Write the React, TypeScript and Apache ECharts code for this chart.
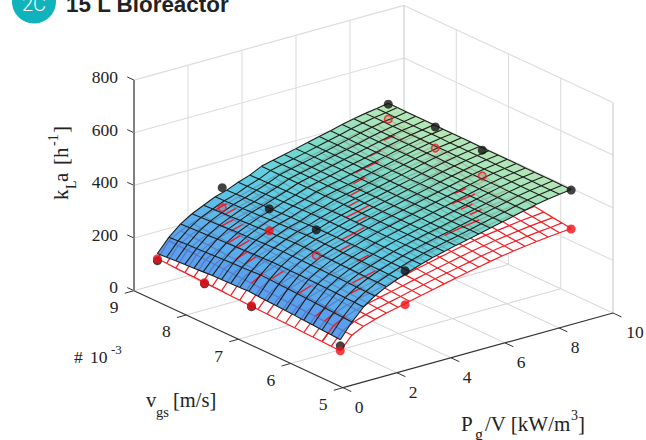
import React, { useEffect, useRef } from "react";
import * as echarts from "echarts";

const pTicks = [0, 2, 4, 6, 8, 10];
const vTicks = [5, 6, 7, 8, 9];
const zTicks = [0, 200, 400, 600, 800];

const pMesh = [-0.1, 0.33, 0.76, 1.18, 1.61, 2.04, 2.47, 2.89, 3.32, 3.75, 4.18, 4.6, 5.03, 5.46, 5.89, 6.31, 6.74, 7.17, 7.6, 8.02, 8.45];
const vMesh = [5, 5.175, 5.35, 5.525, 5.7, 5.875, 6.05, 6.225, 6.4, 6.575, 6.75, 6.925, 7.1, 7.275, 7.45, 7.625, 7.8, 7.975, 8.15, 8.325, 8.5];

// upper kLa surface (rows: P mesh, columns: v mesh)
const upperSurface = [
  [185,188,190,193,195,197,199,201,203,205,208,206,205,204,203,201,199,197,195,192,190],
  [240,242,244,246,248,250,252,254,255,257,258,256,254,253,251,249,247,245,244,242,240],
  [285,287,288,290,291,292,293,294,294,295,295,293,292,290,288,287,285,283,282,280,278],
  [315,316,317,318,319,319,320,320,321,321,322,320,319,317,315,314,312,310,309,307,305],
  [338,339,339,340,341,341,342,342,342,343,343,341,339,338,336,334,332,330,329,327,325],
  [356,356,357,357,358,358,358,359,359,360,360,358,357,355,354,352,351,349,348,346,345],
  [372,372,372,372,372,372,372,372,372,372,372,371,369,368,366,365,364,362,361,359,358],
  [387,387,387,387,387,387,387,387,387,387,387,386,385,384,383,382,380,379,378,377,376],
  [400,400,400,400,400,400,400,400,400,400,400,399,398,397,396,396,395,394,393,392,391],
  [411,411,411,411,411,411,411,411,411,411,411,412,412,412,412,412,412,412,412,412,412],
  [422,422,422,422,422,422,422,422,422,422,422,423,423,423,423,423,423,423,423,423,423],
  [431,431,431,431,431,432,432,432,432,432,432,432,432,432,432,433,433,433,433,433,433],
  [441,441,441,441,441,442,442,442,442,442,442,442,442,442,442,443,443,443,443,443,443],
  [452,452,452,452,452,453,453,453,453,453,453,453,453,453,453,454,454,454,454,454,454],
  [462,462,462,462,463,463,463,463,463,463,463,464,464,464,464,464,464,464,465,465,465],
  [472,472,472,472,473,473,473,473,473,473,473,474,474,474,474,474,474,474,475,475,475],
  [483,483,483,483,484,484,484,484,484,484,484,485,485,485,485,485,485,485,486,486,486],
  [493,493,493,493,494,494,494,494,494,494,494,495,495,495,495,495,495,495,496,496,496],
  [501,501,501,501,502,502,502,502,502,502,502,503,503,503,503,503,503,503,504,504,504],
  [507,507,507,508,508,508,508,508,509,509,509,509,509,510,510,510,510,510,510,511,511],
  [513,513,514,514,514,514,515,515,515,515,515,516,516,516,516,517,517,517,517,518,518],
];

// lower kLa surface (rows: P mesh, columns: v mesh)
const lowerSurface = [
  [143,144,146,147,148,150,151,152,154,155,156,158,159,161,162,163,165,166,167,169,170],
  [190,192,194,195,197,199,201,203,204,206,208,210,212,213,215,217,219,221,222,224,226],
  [212,214,216,218,220,222,224,226,228,230,232,234,236,238,240,242,244,246,248,250,252],
  [226,228,230,232,235,237,239,241,243,245,248,250,252,254,256,258,260,263,265,267,269],
  [238,240,243,245,247,249,252,254,256,258,261,263,265,267,270,272,274,276,279,281,283],
  [248,250,253,255,257,260,262,264,267,269,272,274,276,279,281,283,286,288,290,293,295],
  [258,260,263,265,268,270,273,275,278,280,283,285,287,290,292,295,297,300,302,305,307],
  [268,271,273,276,278,281,284,286,289,291,294,297,299,302,304,307,310,312,315,317,320],
  [278,281,284,286,289,292,295,297,300,303,306,308,311,314,317,319,322,325,328,330,333],
  [288,291,294,297,300,303,305,308,311,314,317,320,323,326,329,332,334,337,340,343,346],
  [298,301,304,307,310,313,316,319,322,325,329,332,335,338,341,344,347,350,353,356,359],
  [307,310,313,317,320,323,326,329,333,336,339,342,345,349,352,355,358,361,365,368,371],
  [316,319,323,326,329,333,336,339,343,346,350,353,356,360,363,366,370,373,376,380,383],
  [325,329,332,336,339,343,346,350,353,357,361,364,368,371,375,378,382,385,389,392,396],
  [333,337,340,344,348,352,355,359,363,366,370,374,377,381,385,389,392,396,400,403,407],
  [340,344,348,352,355,359,363,367,371,375,379,382,386,390,394,398,402,405,409,413,417],
  [346,350,354,358,362,366,370,374,378,382,386,390,394,398,402,406,410,414,418,422,426],
  [352,356,360,364,369,373,377,381,385,389,394,398,402,406,410,414,418,423,427,431,435],
  [357,361,366,370,374,379,383,387,391,396,400,404,409,413,417,422,426,430,434,439,443],
  [361,365,370,374,379,383,388,392,397,401,406,410,414,419,423,428,432,437,441,446,450],
  [365,370,374,379,384,388,393,398,402,407,412,416,421,425,430,435,439,444,449,453,458],
];

// mesh edges of the lower surface that show through the upper one: [P index, v index]
const showThrough = [
  [18,18],[16,17],[15,16],[14,16],[13,15],[12,14],[11,13],[11,12],[10,12],[10,11],[9,10],[8,10],[7,9],[7,7],[6,5],[5,5],[4,4],[1,2],
  [17,9],[17,8],[16,8],[16,7],[16,6],[15,5],[14,5],[13,5],
  [5,20],[5,19],[4,18],[4,17],[3,16],[3,15],[2,14],[2,13],[1,11],[2,10],[2,7],[1,4],[1,3],[0,2],
];

// measured points: [P, v, kLa]
const pointsBlackBack = [[8.45, 8.5, 515], [8.45, 7.6, 511], [8.45, 6.7, 506], [8.45, 5, 511]];
const pointsBlackFront = [[2.3, 8.5, 372], [2.3, 7.6, 375], [2.3, 6.7, 378], [2.3, 5, 379], [-0.1, 8.5, 163], [-0.1, 7.6, 158], [-0.1, 6.7, 154], [-0.1, 5, 162]];
const pointsRedSolid = [[-0.1, 8.5, 170], [-0.1, 7.6, 162], [-0.1, 6.7, 158], [-0.1, 5, 143], [2.3, 5, 250], [8.45, 5, 363], [2.3, 7.6, 291]];
const pointsRedRing = [[2.3, 8.5, 296], [2.3, 6.7, 280], [8.45, 8.5, 458], [8.45, 7.6, 431], [8.45, 6.7, 408]];

const SERIF = '"Liberation Serif", serif';

function project(p: number, v: number, z: number): number[] {
  return [134 + 27 * p + 52.25 * (9 - v), 290.7 - 7.47 * p + 24.25 * (9 - v) - 0.26325 * z];
}

function seg(a: number[], b: number[]): number[] {
  return [...project(a[0], a[1], a[2]), ...project(b[0], b[1], b[2])];
}

function lineSeries(data: number[][], stroke: string, lineWidth: number) {
  return {
    type: "custom",
    coordinateSystem: "cartesian2d",
    silent: true,
    clip: false,
    data,
    renderItem: (_: any, api: any) => {
      const a = api.coord([api.value(0), api.value(1)]);
      const b = api.coord([api.value(2), api.value(3)]);
      return { type: "line", shape: { x1: a[0], y1: a[1], x2: b[0], y2: b[1] }, style: { stroke, lineWidth, fill: "none" } };
    },
  };
}

function textSeries(data: any[], font: string, align: string) {
  return {
    type: "custom",
    coordinateSystem: "cartesian2d",
    silent: true,
    clip: false,
    data: data.map((d) => [d[0], d[1]]),
    renderItem: (params: any, api: any) => {
      const a = api.coord([api.value(0), api.value(1)]);
      return { type: "text", style: { text: data[params.dataIndex][2], x: a[0], y: a[1], font, fill: "#222", align, verticalAlign: "middle" } };
    },
  };
}

const stops = [
  [165, 50, 125, 235],
  [300, 55, 160, 232],
  [400, 60, 198, 218],
  [450, 90, 210, 190],
  [515, 165, 226, 165],
];

function colorFor(z: number): string {
  for (let k = 1; k < stops.length; k++) {
    if (z <= stops[k][0]) {
      const t = Math.max(0, (z - stops[k - 1][0]) / (stops[k][0] - stops[k - 1][0]));
      const c = [1, 2, 3].map((n) => Math.round(stops[k - 1][n] + t * (stops[k][n] - stops[k - 1][n])));
      return `rgb(${c.join(",")})`;
    }
  }
  return "rgb(165,226,165)";
}

function cellIndex(): number[][] {
  const out: number[][] = [];
  for (let i = 0; i < pMesh.length - 1; i++) for (let j = vMesh.length - 2; j >= 0; j--) out.push([i, j]);
  return out;
}

function quad(api: any, m: number[][], i: number, j: number): number[][] {
  return [[i, j], [i + 1, j], [i + 1, j + 1], [i, j + 1]].map(([a, b]) => api.coord(project(pMesh[a], vMesh[b], m[a][b])));
}

function faceSeries(m: number[][], fill: (z: number) => string, opacity: number) {
  return {
    type: "custom",
    coordinateSystem: "cartesian2d",
    silent: true,
    clip: false,
    data: cellIndex(),
    renderItem: (_: any, api: any) => {
      const i = api.value(0);
      const j = api.value(1);
      const z = (m[i][j] + m[i + 1][j] + m[i + 1][j + 1] + m[i][j + 1]) / 4;
      return { type: "polygon", shape: { points: quad(api, m, i, j) }, style: { fill: fill(z), opacity, stroke: "none" } };
    },
  };
}

function meshLines(m: number[][]): number[][] {
  const out: number[][] = [];
  for (let i = 0; i < pMesh.length; i++) {
    for (let j = 0; j < vMesh.length; j++) {
      const here = [pMesh[i], vMesh[j], m[i][j]];
      if (i + 1 < pMesh.length) out.push(seg(here, [pMesh[i + 1], vMesh[j], m[i + 1][j]]));
      if (j + 1 < vMesh.length) out.push(seg(here, [pMesh[i], vMesh[j + 1], m[i][j + 1]]));
    }
  }
  return out;
}

function pointSeries(pts: number[][], color: string, ring: boolean) {
  return {
    type: "scatter",
    symbol: "circle",
    symbolSize: ring ? 7.5 : 9,
    silent: true,
    clip: false,
    data: pts.map((q) => project(q[0], q[1], q[2])),
    itemStyle: ring
      ? { color: "rgba(240,20,30,0.22)", borderColor: color, borderWidth: 1.6 }
      : { color, borderWidth: 0 },
  };
}

// x, y = start of the text on its baseline
function t(x: number, y: number, text: string, size: number, rotated = false) {
  const shift = size * 0.3;
  return {
    type: "text",
    x: rotated ? x - shift : x,
    y: rotated ? y : y - shift,
    rotation: rotated ? Math.PI / 2 : 0,
    silent: true,
    style: { text, font: `${size}px ${SERIF}`, fill: "#222", verticalAlign: "middle" },
  };
}

export default function App() {
  const ref = useRef<HTMLDivElement>(null);
  useEffect(() => {
    document.body.style.margin = "0";
    document.body.style.background = "#fff";
    const chart = echarts.init(ref.current!, undefined, { renderer: "svg" });

    const wall: number[][] = [];
    const zMax = zTicks[zTicks.length - 1];
    zTicks.slice(1).forEach((z) => {
      wall.push(seg([0, 9, z], [10, 9, z]));
      wall.push(seg([10, 9, z], [10, 5, z]));
    });
    pTicks.slice(1, -1).forEach((p) => wall.push(seg([p, 9, 0], [p, 9, zMax])));
    vTicks.slice(1, -1).forEach((v) => wall.push(seg([10, v, 0], [10, v, zMax])));
    const floor: number[][] = [];
    pTicks.slice(1, -1).forEach((p) => floor.push(seg([p, 9, 0], [p, 5, 0])));
    vTicks.slice(1, -1).forEach((v) => floor.push(seg([0, v, 0], [10, v, 0])));
    floor.push(seg([0, 9, 0], [10, 9, 0]));
    floor.push(seg([10, 9, 0], [10, 5, 0]));

    const axisLines = [seg([0, 9, 0], [0, 5, 0]), seg([0, 5, 0], [10, 5, 0])];
    const ticks: number[][] = [];
    vTicks.forEach((v) => ticks.push(seg([0, v, 0], [-0.34, v, 0])));
    pTicks.forEach((p) => ticks.push(seg([p, 5, 0], [p, 4.84, 0])));
    zTicks.forEach((z) => ticks.push(seg([0, 9, z], [0, 9.13, z])));

    const pLabels = pTicks.map((p) => {
      const c = project(p, 5, 0);
      return [c[0] + (p === 10 ? 22 : 16), c[1] + 19, String(p)];
    });
    const vLabels = vTicks.map((v) => {
      const c = project(0, v, 0);
      return [c[0] - 20, c[1] + 16.5, String(v)];
    });
    const zLabels = zTicks.map((z) => {
      const c = project(0, 9, z);
      return [c[0] - 16, c[1] - (z === 0 ? 4 : 3), String(z)];
    });

    const through = showThrough.map(([i, j]) =>
      seg([pMesh[i], vMesh[j], lowerSurface[i][j]], [pMesh[i + 1], vMesh[j], lowerSurface[i + 1][j]])
    );

    const option: any = {
      animation: false,
      backgroundColor: "#fff",
      grid: { left: 0, right: 0, top: 0, bottom: 0 },
      xAxis: { type: "value", min: 0, max: 646, show: false },
      yAxis: { type: "value", min: 0, max: 440, inverse: true, show: false },
      graphic: [
        { type: "circle", silent: true, shape: { cx: 34, cy: 1.5, r: 22 }, style: { fill: "#10b3bb" } },
        { type: "text", silent: true, x: 34, y: 4, style: { text: "2C", font: "300 20px Roboto, sans-serif", fill: "#fff", align: "center", verticalAlign: "middle" } },
        { type: "text", silent: true, x: 66, y: 4, style: { text: "15 L Bioreactor", font: 'bold 22.4px "Liberation Sans", sans-serif', fill: "#222", verticalAlign: "middle" } },
        t(67, 200, "k", 21, true),
        t(76, 189, "L", 14, true),
        t(67, 182, "a", 21, true),
        t(67, 165, "[h", 21, true),
        t(58, 146, "-1", 14, true),
        t(67, 133, "]", 21, true),
        t(74, 362.5, "#", 17.5),
        t(90, 362.5, "10", 17.5),
        t(111, 353, "-3", 13),
        t(146, 406, "v", 20.5),
        t(156, 416, "gs", 14.5),
        t(173, 406, "[m/s]", 20.5),
        t(461, 430, "P", 21),
        t(475, 439, "g", 16),
        t(485, 430, "/V [kW/m", 21),
        t(571, 420, "3", 14),
        t(578, 430, "]", 21),
      ],
      series: [
        lineSeries(wall, "#dcdcdc", 1.1),
        lineSeries(floor, "#d4d4d4", 1),
        lineSeries([seg([10, 9, 0], [10, 9, zMax]), seg([10, 5, 0], [10, 5, zMax])], "#cfcfcf", 1.2),
        lineSeries(axisLines, "#333", 1.2),
        lineSeries(ticks, "#333", 1),
        lineSeries([seg([0, 9, 0], [0, 9, zMax])], "#808080", 2),
        textSeries(pLabels, `17.5px ${SERIF}`, "center"),
        textSeries(vLabels, `17.5px ${SERIF}`, "center"),
        textSeries(zLabels, `17.5px ${SERIF}`, "right"),
        faceSeries(lowerSurface, () => "#fff", 1),
        lineSeries(meshLines(lowerSurface), "#f01c24", 1.2),
        pointSeries(pointsBlackBack, "#141414", false),
        faceSeries(upperSurface, colorFor, 0.82),
        lineSeries(through, "#f0202a", 1.4),
        lineSeries(meshLines(upperSurface), "#1c1c1c", 1.1),
        pointSeries(pointsBlackFront, "#141414", false),
        pointSeries(pointsRedSolid, "#f01018", false),
        pointSeries(pointsRedRing, "#ee1c24", true),
      ],
    };
    chart.setOption(option);
    return () => chart.dispose();
  }, []);
  return <div ref={ref} style={{ position: "absolute", left: 0, top: 0, width: 646, height: 440, overflow: "hidden" }} />;
}
